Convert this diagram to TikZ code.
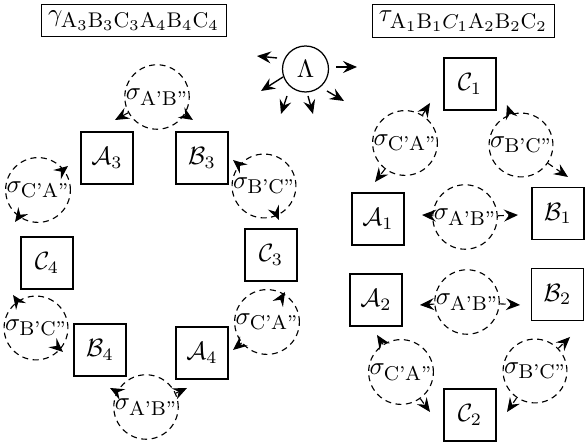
\documentclass[tikz,border=0pt]{standalone}
\usetikzlibrary{arrows.meta}
\begin{document}
\begin{tikzpicture}[x=0.4pt,y=0.4pt,
  boxnode/.style={draw,line width=0.5pt,minimum size=20.8pt,inner sep=0pt},
  signode/.style={draw,circle,line width=0.45pt,dash pattern=on 2.4pt off 1.8pt,minimum size=23.4pt,inner sep=0pt},
  sarrow/.style={line width=0.45pt,dash pattern=on 2.4pt off 1.8pt,-{Stealth[length=5.6pt,width=4.8pt,inset=2pt]}},
  larrow/.style={line width=0.55pt,-{Stealth[length=5.6pt,width=4.8pt,inset=2pt]}},
  titlebox/.style={draw,line width=0.5pt,inner sep=2.5pt,minimum height=12.4pt}]
\useasboundingbox (0,0) rectangle (586,445);
\newcommand{\sub}[1]{\mbox{\fontsize{8}{8}\selectfont #1}}
\newcommand{\tsub}[1]{\mbox{\fontsize{8.5}{9}\selectfont #1}}
% titles
\node[titlebox] (tl) at (134,424.5) {$\gamma_{\tsub{A$_3$B$_3$C$_3$A$_4$B$_4$C$_4$}}$};
\node[titlebox] (tr) at (463.5,424) {$\tau_{\tsub{A$_1$B$_1$$C_1$A$_2$B$_2$C$_2$}}$};
% Lambda
\node[draw,circle,line width=0.5pt,minimum size=18.4pt,inner sep=0pt] (lam) at (305.5,376) {$\Lambda$};
\coordinate (l1s) at (277,387); \coordinate (l1e) at (257,389);
\coordinate (l2s) at (336,378); \coordinate (l2e) at (357,378);
\coordinate (l3s) at (283,368); \coordinate (l3e) at (261,354);
\coordinate (l4s) at (287,349); \coordinate (l4e) at (281,331);
\coordinate (l5s) at (308,349); \coordinate (l5e) at (313,331);
\coordinate (l6s) at (327,354); \coordinate (l6e) at (344,344);
\foreach \i in {1,...,6} \draw[larrow] (l\i s) -- (l\i e);
% left boxes
\node[boxnode] (A3) at (107,287) {$\mathcal{A}_3$};
\node[boxnode] (B3) at (202,287) {$\mathcal{B}_3$};
\node[boxnode] (C3) at (271,190) {$\mathcal{C}_3$};
\node[boxnode] (C4) at (47,182) {$\mathcal{C}_4$};
\node[boxnode] (B4) at (100,95) {$\mathcal{B}_4$};
\node[boxnode] (A4) at (202,92) {$\mathcal{A}_4$};
% right boxes
\node[boxnode] (C1) at (470,361) {$\mathcal{C}_1$};
\node[boxnode] (A1) at (378,226) {$\mathcal{A}_1$};
\node[boxnode] (B1) at (558,231.5) {$\mathcal{B}_1$};
\node[boxnode] (A2) at (376,145) {$\mathcal{A}_2$};
\node[boxnode] (B2) at (557.5,150.5) {$\mathcal{B}_2$};
\node[boxnode] (C2) at (470,30) {$\mathcal{C}_2$};
% sigma circles left
\node[signode] (L1) at (157,348) {$\sigma_{\sub{A'B''}}$};
\node[signode] (L2) at (38,255) {$\sigma_{\sub{C'A''}}$};
\node[signode] (L3) at (264,259) {$\sigma_{\sub{B'C''}}$};
\node[signode] (L4) at (36,117) {$\sigma_{\sub{B'C''}}$};
\node[signode] (L5) at (267,123) {$\sigma_{\sub{C'A''}}$};
\node[signode] (L6) at (146,38) {$\sigma_{\sub{A'B''}}$};
% sigma circles right
\node[signode] (R1) at (405,302) {$\sigma_{\sub{C'A''}}$};
\node[signode] (R2) at (521,300) {$\sigma_{\sub{B'C''}}$};
\node[signode] (R3) at (465,228) {$\sigma_{\sub{A'B''}}$};
\node[signode] (R4) at (467,143) {$\sigma_{\sub{A'B''}}$};
\node[signode] (R5) at (401,73) {$\sigma_{\sub{C'A''}}$};
\node[signode] (R6) at (535,74) {$\sigma_{\sub{B'C''}}$};
% arrow tips
\coordinate (L1a) at (115,325); \coordinate (L1b) at (193,325);
\coordinate (L2a) at (68,279);  \coordinate (L2b) at (15,223);
\coordinate (L3a) at (233,285); \coordinate (L3b) at (279,225);
\coordinate (L4a) at (13,150);  \coordinate (L4b) at (63,93);
\coordinate (L5a) at (285,153); \coordinate (L5b) at (233,95);
\coordinate (L6a) at (110,57);  \coordinate (L6b) at (187,57);
\coordinate (R1a) at (430,342); \coordinate (R1b) at (375,263);
\coordinate (R2a) at (507,340); \coordinate (R2b) at (568,268);
\coordinate (R3a) at (422,230); \coordinate (R3b) at (518,230);
\coordinate (R4a) at (420,140); \coordinate (R4b) at (520,140);
\coordinate (R5a) at (377,110); \coordinate (R5b) at (430,33);
\coordinate (R6a) at (570,108); \coordinate (R6b) at (507,33);
\foreach \s in {L1,L2,L3,L4,L5,L6,R1,R2,R3,R4,R5,R6} {
  \draw[sarrow] (\s) -- (\s a);
  \draw[sarrow] (\s) -- (\s b);
}
\end{tikzpicture}
\end{document}
